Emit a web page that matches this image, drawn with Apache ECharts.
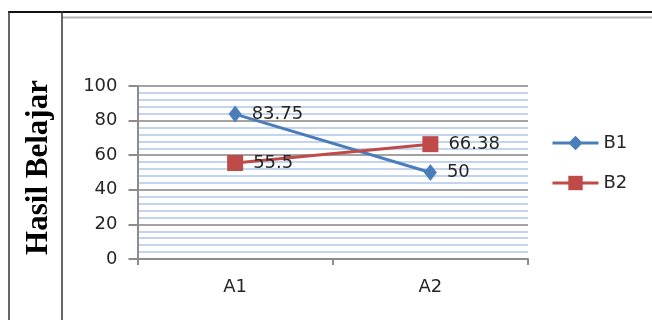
<!DOCTYPE html>
<html>
<head>
<meta charset="utf-8">
<script src="https://cdn.jsdelivr.net/npm/echarts@6/dist/echarts.min.js"></script>
<style>
  html, body { margin: 0; padding: 0; background: #fff; }
  #chart { width: 652px; height: 320px; }
</style>
</head>
<body>
<div id="chart"></div>
<script>
// Values per group
const categories = ['A1', 'A2'];
const seriesNames = ['B1', 'B2'];
const valuesB1 = [83.75, 50];
const valuesB2 = [55.5, 66.38];
// Value axis ticks
const yMin = 0;
const yMax = 100;
const yStep = 20;
const axisTitle = 'Hasil Belajar';

const labelFont = 'DejaVu Sans';
const textColor = '#262626';

const chart = echarts.init(document.getElementById('chart'));

function pointLabel() {
  return {
    show: true,
    position: 'right',
    distance: 10,
    color: textColor,
    fontFamily: labelFont,
    fontSize: 18
  };
}

chart.setOption({
  backgroundColor: '#ffffff',
  animation: false,
  grid: { left: 137.5, right: 124, top: 86, bottom: 61, containLabel: false },
  legend: {
    orient: 'vertical',
    left: 551,
    top: 134,
    padding: 0,
    itemWidth: 46,
    itemHeight: 18,
    itemGap: 22,
    lineStyle: { width: 3 },
    textStyle: { color: textColor, fontFamily: labelFont, fontSize: 18 },
    data: seriesNames
  },
  xAxis: {
    type: 'category',
    data: categories,
    boundaryGap: true,
    axisLine: { lineStyle: { color: '#8c8c8c', width: 2 } },
    axisTick: { show: true, length: 6, lineStyle: { color: '#8c8c8c', width: 2 } },
    axisLabel: { color: textColor, fontFamily: labelFont, fontSize: 18, margin: 19 }
  },
  yAxis: {
    type: 'value',
    min: yMin,
    max: yMax,
    interval: yStep,
    axisLine: { show: true, lineStyle: { color: '#8c8c8c', width: 2 } },
    axisTick: { show: true, length: 9, lineStyle: { color: '#8c8c8c', width: 2 } },
    axisLabel: { color: textColor, fontFamily: labelFont, fontSize: 18, margin: 20 },
    splitLine: { show: true, lineStyle: { color: '#a3a3a3', width: 2 } },
    minorTick: { show: false, splitNumber: 5 },
    minorSplitLine: { show: true, lineStyle: { color: '#c3d4ee', width: 2 } }
  },
  series: [
    {
      name: seriesNames[0],
      type: 'line',
      data: valuesB1,
      symbol: 'diamond',
      symbolSize: [13, 17],
      lineStyle: { color: '#4a7ebb', width: 3 },
      itemStyle: { color: '#4a7ebb' },
      label: pointLabel(),
      z: 3
    },
    {
      name: seriesNames[1],
      type: 'line',
      data: valuesB2,
      symbol: 'rect',
      symbolSize: 16,
      lineStyle: { color: '#be4b48', width: 3 },
      itemStyle: { color: '#be4b48' },
      label: pointLabel(),
      z: 3
    }
  ],
  graphic: [
    // table frame around the figure
    { type: 'line', shape: { x1: 8, y1: 12, x2: 652, y2: 12 }, style: { stroke: '#111', lineWidth: 2 } },
    { type: 'line', shape: { x1: 62, y1: 17.5, x2: 652, y2: 17.5 }, style: { stroke: '#b4b4b4', lineWidth: 2 } },
    { type: 'line', shape: { x1: 9, y1: 11, x2: 9, y2: 320 }, style: { stroke: '#333', lineWidth: 1.5 } },
    { type: 'line', shape: { x1: 62, y1: 11, x2: 62, y2: 320 }, style: { stroke: '#333', lineWidth: 1.5 } },
    // vertical axis title
    {
      type: 'text',
      x: 39,
      y: 167.5,
      rotation: Math.PI / 2,
      style: {
        text: axisTitle,
        fill: '#000',
        font: 'bold 31px "Liberation Serif", "Times New Roman", serif',
        textAlign: 'center',
        textVerticalAlign: 'middle',
        verticalAlign: 'middle'
      }
    }
  ]
});
</script>
</body>
</html>
